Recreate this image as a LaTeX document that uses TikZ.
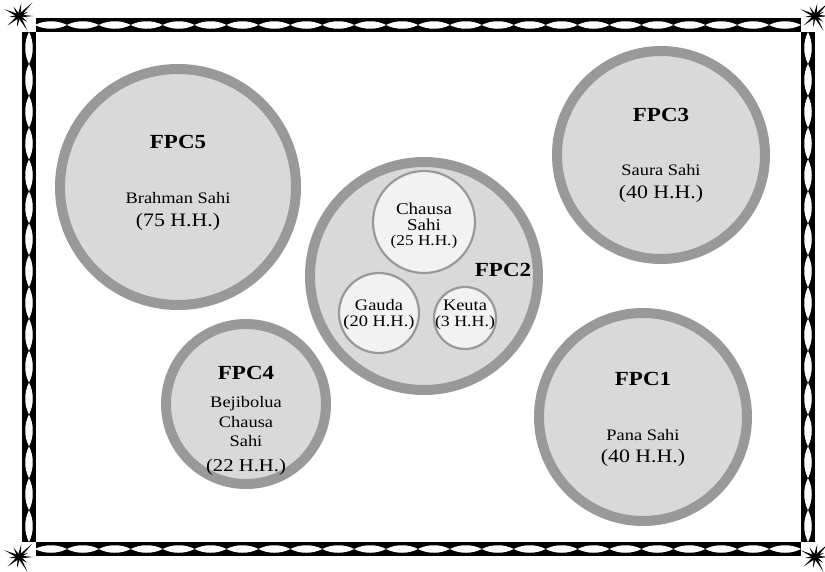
\documentclass[tikz,border=0pt]{standalone}
\usepackage{fontspec}
\setmainfont{Liberation Serif}[FakeStretch=1.15]
\definecolor{ringgray}{HTML}{999999}
\definecolor{fillgray}{HTML}{D9D9D9}
\definecolor{innerfill}{HTML}{F2F2F2}
\begin{document}
\begin{tikzpicture}[x=1pt,y=-1pt,
  big/.style={circle,fill=fillgray,draw=ringgray,line width=10pt,inner sep=0pt},
  small/.style={circle,fill=innerfill,draw=ringgray,line width=2.2pt,inner sep=0pt},
  ttl/.style={font=\fontsize{20}{22}\selectfont\bfseries,inner sep=0pt},
  nm/.style={font=\fontsize{16}{18}\selectfont,inner sep=0pt},
  hh/.style={font=\fontsize{19}{21}\selectfont,inner sep=0pt},
  inm/.style={font=\fontsize{16}{17}\selectfont,inner sep=0pt},
  ihh/.style={font=\fontsize{15}{16}\selectfont,inner sep=0pt}]
\useasboundingbox (0,0) rectangle (825,571);
\fill[white] (0,0) rectangle (825,571);
% frame bars
\fill[black] (35,18) rectangle (801,32);
\fill[black] (35,542) rectangle (801,556);
\fill[black] (22,32) rectangle (36,542);
\fill[black] (801,32) rectangle (815,542);
% lenses horizontal
\pgfmathsetmacro{\hp}{766/24}
\foreach \i in {0,...,23}{
  \pgfmathsetmacro{\xa}{35+\i*\hp}
  \pgfmathsetmacro{\xb}{35+(\i+1)*\hp}
  \fill[white] (\xa,25) .. controls ({\xa+\hp*0.3},20) and ({\xb-\hp*0.3},20) .. (\xb,25)
     .. controls ({\xb-\hp*0.3},30) and ({\xa+\hp*0.3},30) .. cycle;
  \fill[white] (\xa,549) .. controls ({\xa+\hp*0.3},544) and ({\xb-\hp*0.3},544) .. (\xb,549)
     .. controls ({\xb-\hp*0.3},554) and ({\xa+\hp*0.3},554) .. cycle;
}
\pgfmathsetmacro{\vp}{510/16}
\foreach \i in {0,...,15}{
  \pgfmathsetmacro{\ya}{32+\i*\vp}
  \pgfmathsetmacro{\yb}{32+(\i+1)*\vp}
  \fill[white] (29,\ya) .. controls (24,{\ya+\vp*0.3}) and (24,{\yb-\vp*0.3}) .. (29,\yb)
     .. controls (34,{\yb-\vp*0.3}) and (34,{\ya+\vp*0.3}) .. cycle;
  \fill[white] (808,\ya) .. controls (803,{\ya+\vp*0.3}) and (803,{\yb-\vp*0.3}) .. (808,\yb)
     .. controls (813,{\yb-\vp*0.3}) and (813,{\ya+\vp*0.3}) .. cycle;
}
% corner squares and stars
\foreach \cx/\cy/\sx/\sy in {22/18/19/16, 801/18/815/16, 22/542/19/557, 801/542/815/557}{
  \fill[white] (\cx,\cy) rectangle ({\cx+14},{\cy+14});
  \begin{scope}[shift={(\sx,\sy)}]
    \foreach \a/\l in {0/14,35/10,60/17,100/11,140/15,175/10,205/16,240/11,280/13,315/19,335/10}{
      \fill[black] (\a:\l) -- ({\a+90}:1.5) -- ({\a-90}:1.5) -- cycle;
    }
    \fill[black] (0,0) circle (2.2);
  \end{scope}
}
% big circles
\node[big,minimum size=236pt] (c5) at (178,187) {};
\node[big,minimum size=208pt] (c3) at (661,155) {};
\node[big,minimum size=208pt] (c1) at (643,417) {};
\node[big,minimum size=228pt] (c2) at (424,276) {};
\node[big,minimum size=160pt] (c4) at (246,404) {};
% inner circles
\node[small,minimum size=102pt] (ch) at (424,222) {};
\node[small,minimum size=80pt] (ga) at (379,313) {};
\node[small,minimum size=62pt] (ke) at (465,318) {};
% texts
\node[ttl] (t5) at (178,142) {FPC5};
\node[nm] (n5) at (178,198) {Brahman Sahi};
\node[hh] (h5) at (178,222) {(75 H.H.)};
\node[ttl] (t3) at (661,115) {FPC3};
\node[nm] (n3) at (661,170) {Saura Sahi};
\node[hh] (h3) at (661,194) {(40 H.H.)};
\node[ttl] (t1) at (643,379) {FPC1};
\node[nm] (n1) at (643,435) {Pana Sahi};
\node[hh] (h1) at (643,458) {(40 H.H.)};
\node[ttl] (t4) at (246,373) {FPC4};
\node[nm,align=center,font=\fontsize{16}{19.5}\selectfont] (n4) at (246,422) {Bejibolua\\Chausa\\Sahi};
\node[hh,font=\fontsize{18}{20}\selectfont] (h4) at (246,467) {(22 H.H.)};
\node[ttl] (t2) at (503,270) {FPC2};
\node[inm,align=center,font=\fontsize{16.5}{15.5}\selectfont] (nch) at (424,217) {Chausa\\Sahi};
\node[ihh] (hch) at (424,242) {(25 H.H.)};
\node[inm] (nga) at (379,305) {Gauda};
\node[ihh,font=\fontsize{16}{17}\selectfont] (hga) at (379,323) {(20 H.H.)};
\node[inm] (nke) at (465,305) {Keuta};
\node[ihh,font=\fontsize{15.5}{17}\selectfont] (hke) at (465,323) {(3 H.H.)};
\end{tikzpicture}
\end{document}
